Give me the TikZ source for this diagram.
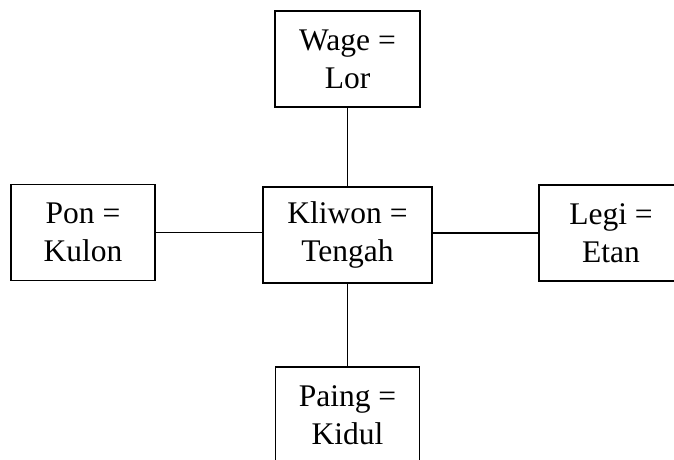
\documentclass[tikz,border=0pt]{standalone}
\usepackage{fontspec}
\setmainfont{Liberation Serif}
\begin{document}
\begin{tikzpicture}[x=1pt,y=-1pt,every node/.style={draw,line width=1.8pt,align=center,inner sep=0pt,outer sep=0pt,minimum height=96pt,font=\fontsize{31.5}{38}\selectfont}]
\useasboundingbox (0,0) rectangle (674,459);
\clip (0,0) rectangle (674,459);
\node[minimum width=145pt] (wage) at (347.5,59) {Wage =\\Lor};
\node[minimum width=144pt] (pon) at (83,232.5) {Pon =\\Kulon};
\node[minimum width=169pt] (kliwon) at (347.5,235) {Kliwon =\\Tengah};
\node[minimum width=144pt] (legi) at (611,233) {Legi =\\Etan};
\node[minimum width=144pt] (paing) at (347.5,415) {Paing =\\Kidul};
\draw[line width=1.8pt] (wage) -- (kliwon);
\draw[line width=1.8pt] (kliwon) -- (paing);
\draw[line width=1.8pt] (pon.east) -- (pon.east -| kliwon.west);
\draw[line width=1.8pt] (legi.west) -- (legi.west -| kliwon.east);
\end{tikzpicture}
\end{document}
